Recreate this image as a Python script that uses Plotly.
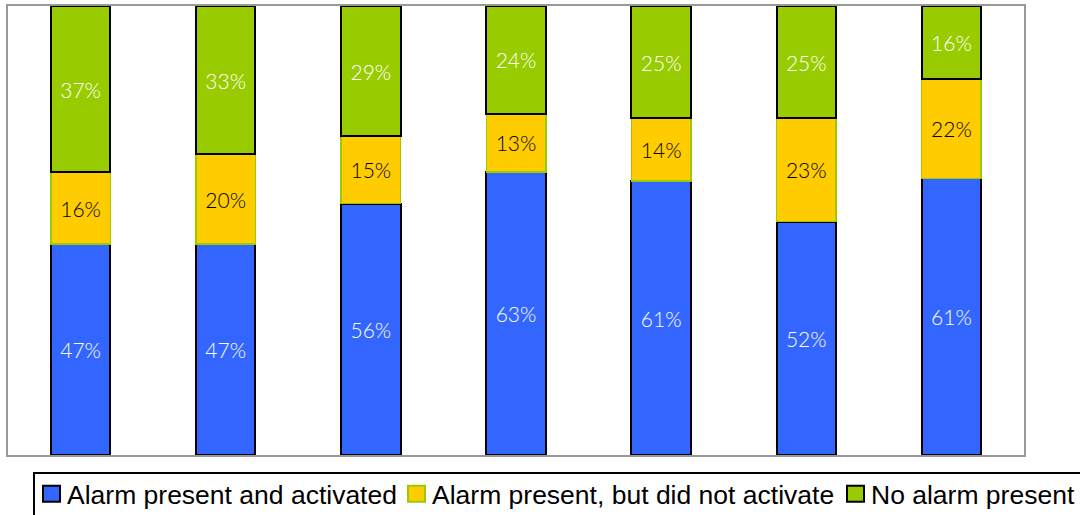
import plotly.graph_objects as go

# Survey groups (one stacked bar each) and the share of each outcome, in percent
groups = [1, 2, 3, 4, 5, 6, 7]
activated = [47, 47, 56, 63, 61, 52, 61]
not_activated = [16, 20, 15, 13, 14, 23, 22]
no_alarm = [37, 33, 29, 24, 25, 25, 16]

names = ["Alarm present and activated",
         "Alarm present, but did not activate",
         "No alarm present"]
fills = ["#3366FF", "#FFCC00", "#99CC00"]
edges = ["#000000", "#99CC00", "#000000"]
edge_widths = [2, 1.5, 2]
text_colors = ["#FFFFFF", "#000000", "#FFFFFF"]

W, H = 1080, 515
M = dict(l=8, r=56, t=4, b=60)
PW = W - M["l"] - M["r"]
PH = H - M["t"] - M["b"]


def px_x(x):
    return (x - M["l"]) / PW


def px_y(y):
    return (H - M["b"] - y) / PH


fig = go.Figure()
for name, vals, fill, edge, ew, tc in zip(names, [activated, not_activated, no_alarm],
                                          fills, edges, edge_widths, text_colors):
    fig.add_trace(go.Bar(
        x=groups, y=vals, name=name,
        marker=dict(color=fill, line=dict(color=edge, width=ew)),
        text=[f"{v}%" for v in vals],
        textposition="inside", insidetextanchor="middle",
        textfont=dict(family="Lato", size=21, color=tc, weight=300),
        textangle=0, showlegend=False, hoverinfo="skip",
    ))

# Legend panel below the plot: framed box, square swatches and labels
shapes = [dict(type="rect", xref="paper", yref="paper",
               x0=px_x(34), x1=px_x(1095), y0=px_y(473), y1=px_y(530),
               line=dict(color="#000000", width=2), fillcolor="white", layer="above")]
annotations = []
swatch_left = [43, 408, 847]
for left, name, fill, edge in zip(swatch_left, names, fills, edges):
    shapes.append(dict(type="rect", xref="paper", yref="paper",
                       x0=px_x(left), x1=px_x(left + 17), y0=px_y(486), y1=px_y(502),
                       fillcolor=fill, line=dict(color=edge, width=2),
                       layer="above"))
    annotations.append(dict(text=name, xref="paper", yref="paper",
                            x=px_x(left + 22), y=px_y(495), xanchor="left", yanchor="middle",
                            showarrow=False,
                            font=dict(family="Liberation Sans", size=26.5, color="#000000")))

fig.update_layout(
    barmode="stack", barnorm="percent", bargap=0.59,
    width=W, height=H, margin=M,
    paper_bgcolor="white", plot_bgcolor="white",
    showlegend=False, shapes=shapes, annotations=annotations,
    xaxis=dict(range=[0.5, 7.5], showticklabels=False, ticks="", showgrid=False,
               zeroline=False, showline=True, linecolor="#999999", linewidth=2, mirror=True),
    yaxis=dict(range=[0, 100], showticklabels=False, ticks="", showgrid=False,
               zeroline=False, showline=True, linecolor="#999999", linewidth=2, mirror=True),
)

fig.write_html("out.html")
